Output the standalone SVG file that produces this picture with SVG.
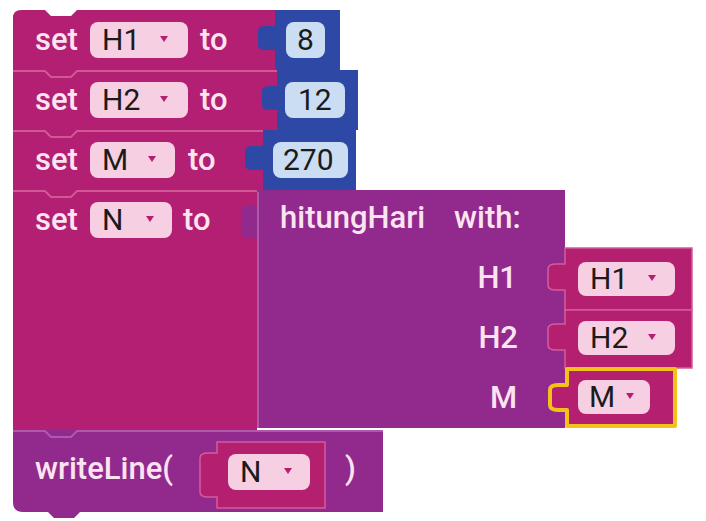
<svg xmlns="http://www.w3.org/2000/svg" width="706" height="521" viewBox="0 0 706 521">
<defs>
<style>
.set{fill:#B31F72}
.fn{fill:#922A8E}
.num{fill:#2E48A6}
.var{fill:#B51F70;stroke:#D25C9C;stroke-width:1.5}
.line{fill:none;stroke:#D8669F;stroke-width:2;opacity:0.8}
.fline{fill:none;stroke:#B565B3;stroke-width:2;opacity:0.8}
.lbl{font-family:Roboto,"Liberation Sans",sans-serif;font-size:31px;font-weight:500;fill:#FBE4F0}
.dark{font-family:Roboto,"Liberation Sans",sans-serif;font-size:30px;fill:#1B1B1B}
.vpill{fill:#F7CFE2}
.npill{fill:#CBDDF2}
.arr{fill:#B51F70}
</style>
</defs>
<rect width="706" height="521" fill="#FFFFFF"/>

<g id="set-H1">
<path class="set" d="M13,18 Q13,10 21,10 H45 L51,16 H71 L77,10 H275 V70 H13 Z"/>
<text class="lbl" x="35" y="50">set</text>
<rect class="vpill" x="90" y="22" width="98" height="36" rx="8"/>
<text class="dark" x="102" y="50">H1</text>
<path class="arr" d="M160,36 h8 l-4,6 z"/>
<text class="lbl" x="200" y="50">to</text>
</g>
<g id="num-8">
<path class="num" d="M275,10 H340 V70 H275 V50 H266 Q258,50 258,45 V31 Q258,26 266,26 H275 Z"/>
<rect class="npill" x="286" y="22" width="39" height="36" rx="8"/>
<text class="dark" x="297" y="50">8</text>
</g>

<g id="set-H2">
<path class="set" d="M13,70 H277 V130 H13 Z"/>
<path class="line" d="M13,71 H45 L51,77 H71 L77,71 H277"/>
<text class="lbl" x="35" y="110">set</text>
<rect class="vpill" x="90" y="82" width="98" height="36" rx="8"/>
<text class="dark" x="102" y="110">H2</text>
<path class="arr" d="M160,96 h8 l-4,6 z"/>
<text class="lbl" x="200" y="110">to</text>
</g>
<g id="num-12">
<path class="num" d="M277,70 H358 V130 H277 V110 H270 Q262,110 262,105 V91 Q262,86 270,86 H277 Z"/>
<rect class="npill" x="285" y="82" width="60" height="36" rx="8"/>
<text class="dark" x="298" y="110">12</text>
</g>

<g id="set-M">
<path class="set" d="M13,130 H263 V190 H13 Z"/>
<path class="line" d="M13,131 H45 L51,137 H71 L77,131 H263"/>
<text class="lbl" x="35" y="170">set</text>
<rect class="vpill" x="90" y="142" width="85" height="36" rx="8"/>
<text class="dark" x="102" y="170">M</text>
<path class="arr" d="M148,156 h8 l-4,6 z"/>
<text class="lbl" x="188" y="170">to</text>
</g>
<g id="num-270">
<path class="num" d="M263,130 H356 V190 H263 V170 H253 Q245,170 245,165 V151 Q245,146 253,146 H263 Z"/>
<rect class="npill" x="273" y="142" width="75" height="36" rx="8"/>
<text class="dark" x="283" y="170">270</text>
</g>

<g id="set-N">
<path class="set" d="M13,190 H257 V430 H13 Z"/>
<path class="line" d="M13,191 H45 L51,197 H71 L77,191 H257"/>
<text class="lbl" x="35" y="230">set</text>
<rect class="vpill" x="90" y="202" width="82" height="36" rx="8"/>
<text class="dark" x="102" y="230">N</text>
<path class="arr" d="M146,216 h8 l-4,6 z"/>
<text class="lbl" x="183" y="230">to</text>
</g>

<g id="hitungHari">
<path class="fn" d="M257,190 H565 V428 H257 V238 H250 Q242,238 242,233 V210 Q242,205 250,205 H257 Z"/>
<path class="fline" d="M258,192 V428"/>
<text class="lbl" x="280" y="228">hitungHari</text>
<text class="lbl" x="454" y="228">with:</text>
<text class="lbl" x="517" y="288" text-anchor="end">H1</text>
<text class="lbl" x="518" y="348" text-anchor="end">H2</text>
<text class="lbl" x="517" y="408" text-anchor="end">M</text>
</g>

<g id="arg-H1">
<path class="var" d="M565,248 H692 V310 H565 V290 H556 Q548,290 548,285 V269 Q548,264 556,264 H565 Z"/>
<rect class="vpill" x="578" y="262" width="97" height="34" rx="8"/>
<text class="dark" x="590" y="289">H1</text>
<path class="arr" d="M648,275 h8 l-4,6 z"/>
</g>
<g id="arg-H2">
<path class="var" d="M565,310 H692 V368 H565 V350 H556 Q548,350 548,345 V329 Q548,324 556,324 H565 Z"/>
<rect class="vpill" x="578" y="321" width="97" height="34" rx="8"/>
<text class="dark" x="590" y="348">H2</text>
<path class="arr" d="M648,334 h8 l-4,6 z"/>
</g>
<g id="arg-M">
<path class="var" d="M567,369 H675 V426 H567 V410 H558 Q550,410 550,405 V390 Q550,385 558,385 H567 Z" style="stroke:#F2C21B;stroke-width:4;stroke-linejoin:round"/>
<rect class="vpill" x="578" y="380" width="72" height="34" rx="8"/>
<text class="dark" x="589" y="407">M</text>
<path class="arr" d="M626,393 h8 l-4,6 z"/>
</g>

<g id="writeLine">
<path class="fn" d="M13,430 H383 V512 H80 L74,518 H54 L48,512 H23 Q13,512 13,502 Z"/>
<path class="fline" d="M13,431 H45 L51,437 H71 L77,431 H383"/>
<text class="lbl" x="35" y="479">writeLine(</text>
<text class="lbl" x="345" y="479">)</text>
</g>
<g id="arg-N">
<path class="var" d="M217,442 H325 V508 H217 V497 H208 Q200,497 200,492 V458 Q200,453 208,453 H217 Z"/>
<rect class="vpill" x="228" y="454" width="82" height="36" rx="8"/>
<text class="dark" x="240" y="482">N</text>
<path class="arr" d="M284,468 h8 l-4,6 z"/>
</g>
</svg>
